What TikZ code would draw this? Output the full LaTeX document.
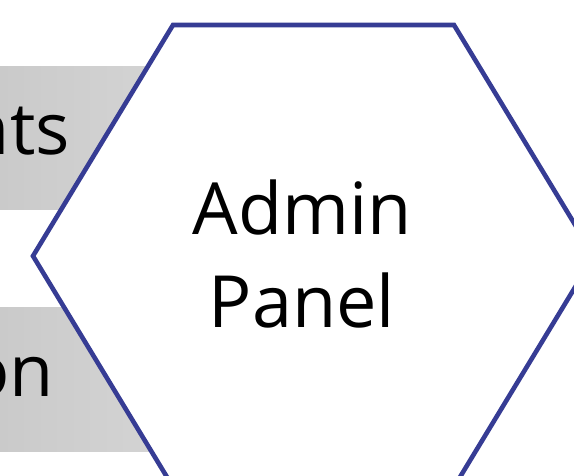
\documentclass[tikz,border=0pt]{standalone}
\usepackage{fontspec}
\setmainfont{Open Sans}
\definecolor{hexblue}{HTML}{363C94}
\begin{document}
\begin{tikzpicture}[x=1pt,y=1pt,
  graybox/.style={left color=black!21,right color=black!16,draw=none},
  bigtext/.style={font=\fontsize{72}{93}\selectfont,inner sep=0pt},
  hexline/.style={draw=hexblue,line width=4.6pt,fill=white,line join=miter}]
\useasboundingbox (0,0) rectangle (574,476);
\clip (0,0) rectangle (574,476);
\fill[white] (0,0) rectangle (574,476);
% gray boxes behind the hexagon
\shade[graybox] (-10,266) rectangle (200,409);
\shade[graybox] (-10,24) rectangle (200,168);
\node[bigtext,anchor=base east] (t1) at (70,321) {nts};
\node[bigtext,anchor=base east] (t2) at (54,79) {on};
% hexagon
\draw[hexline] (173,451) -- (454,451) -- (594,220) -- (454,-11) -- (173,-11) -- (33,220) -- cycle;
\node[bigtext,align=center,anchor=base] (title) at (302,148) {Admin\\Panel};
\end{tikzpicture}
\end{document}
